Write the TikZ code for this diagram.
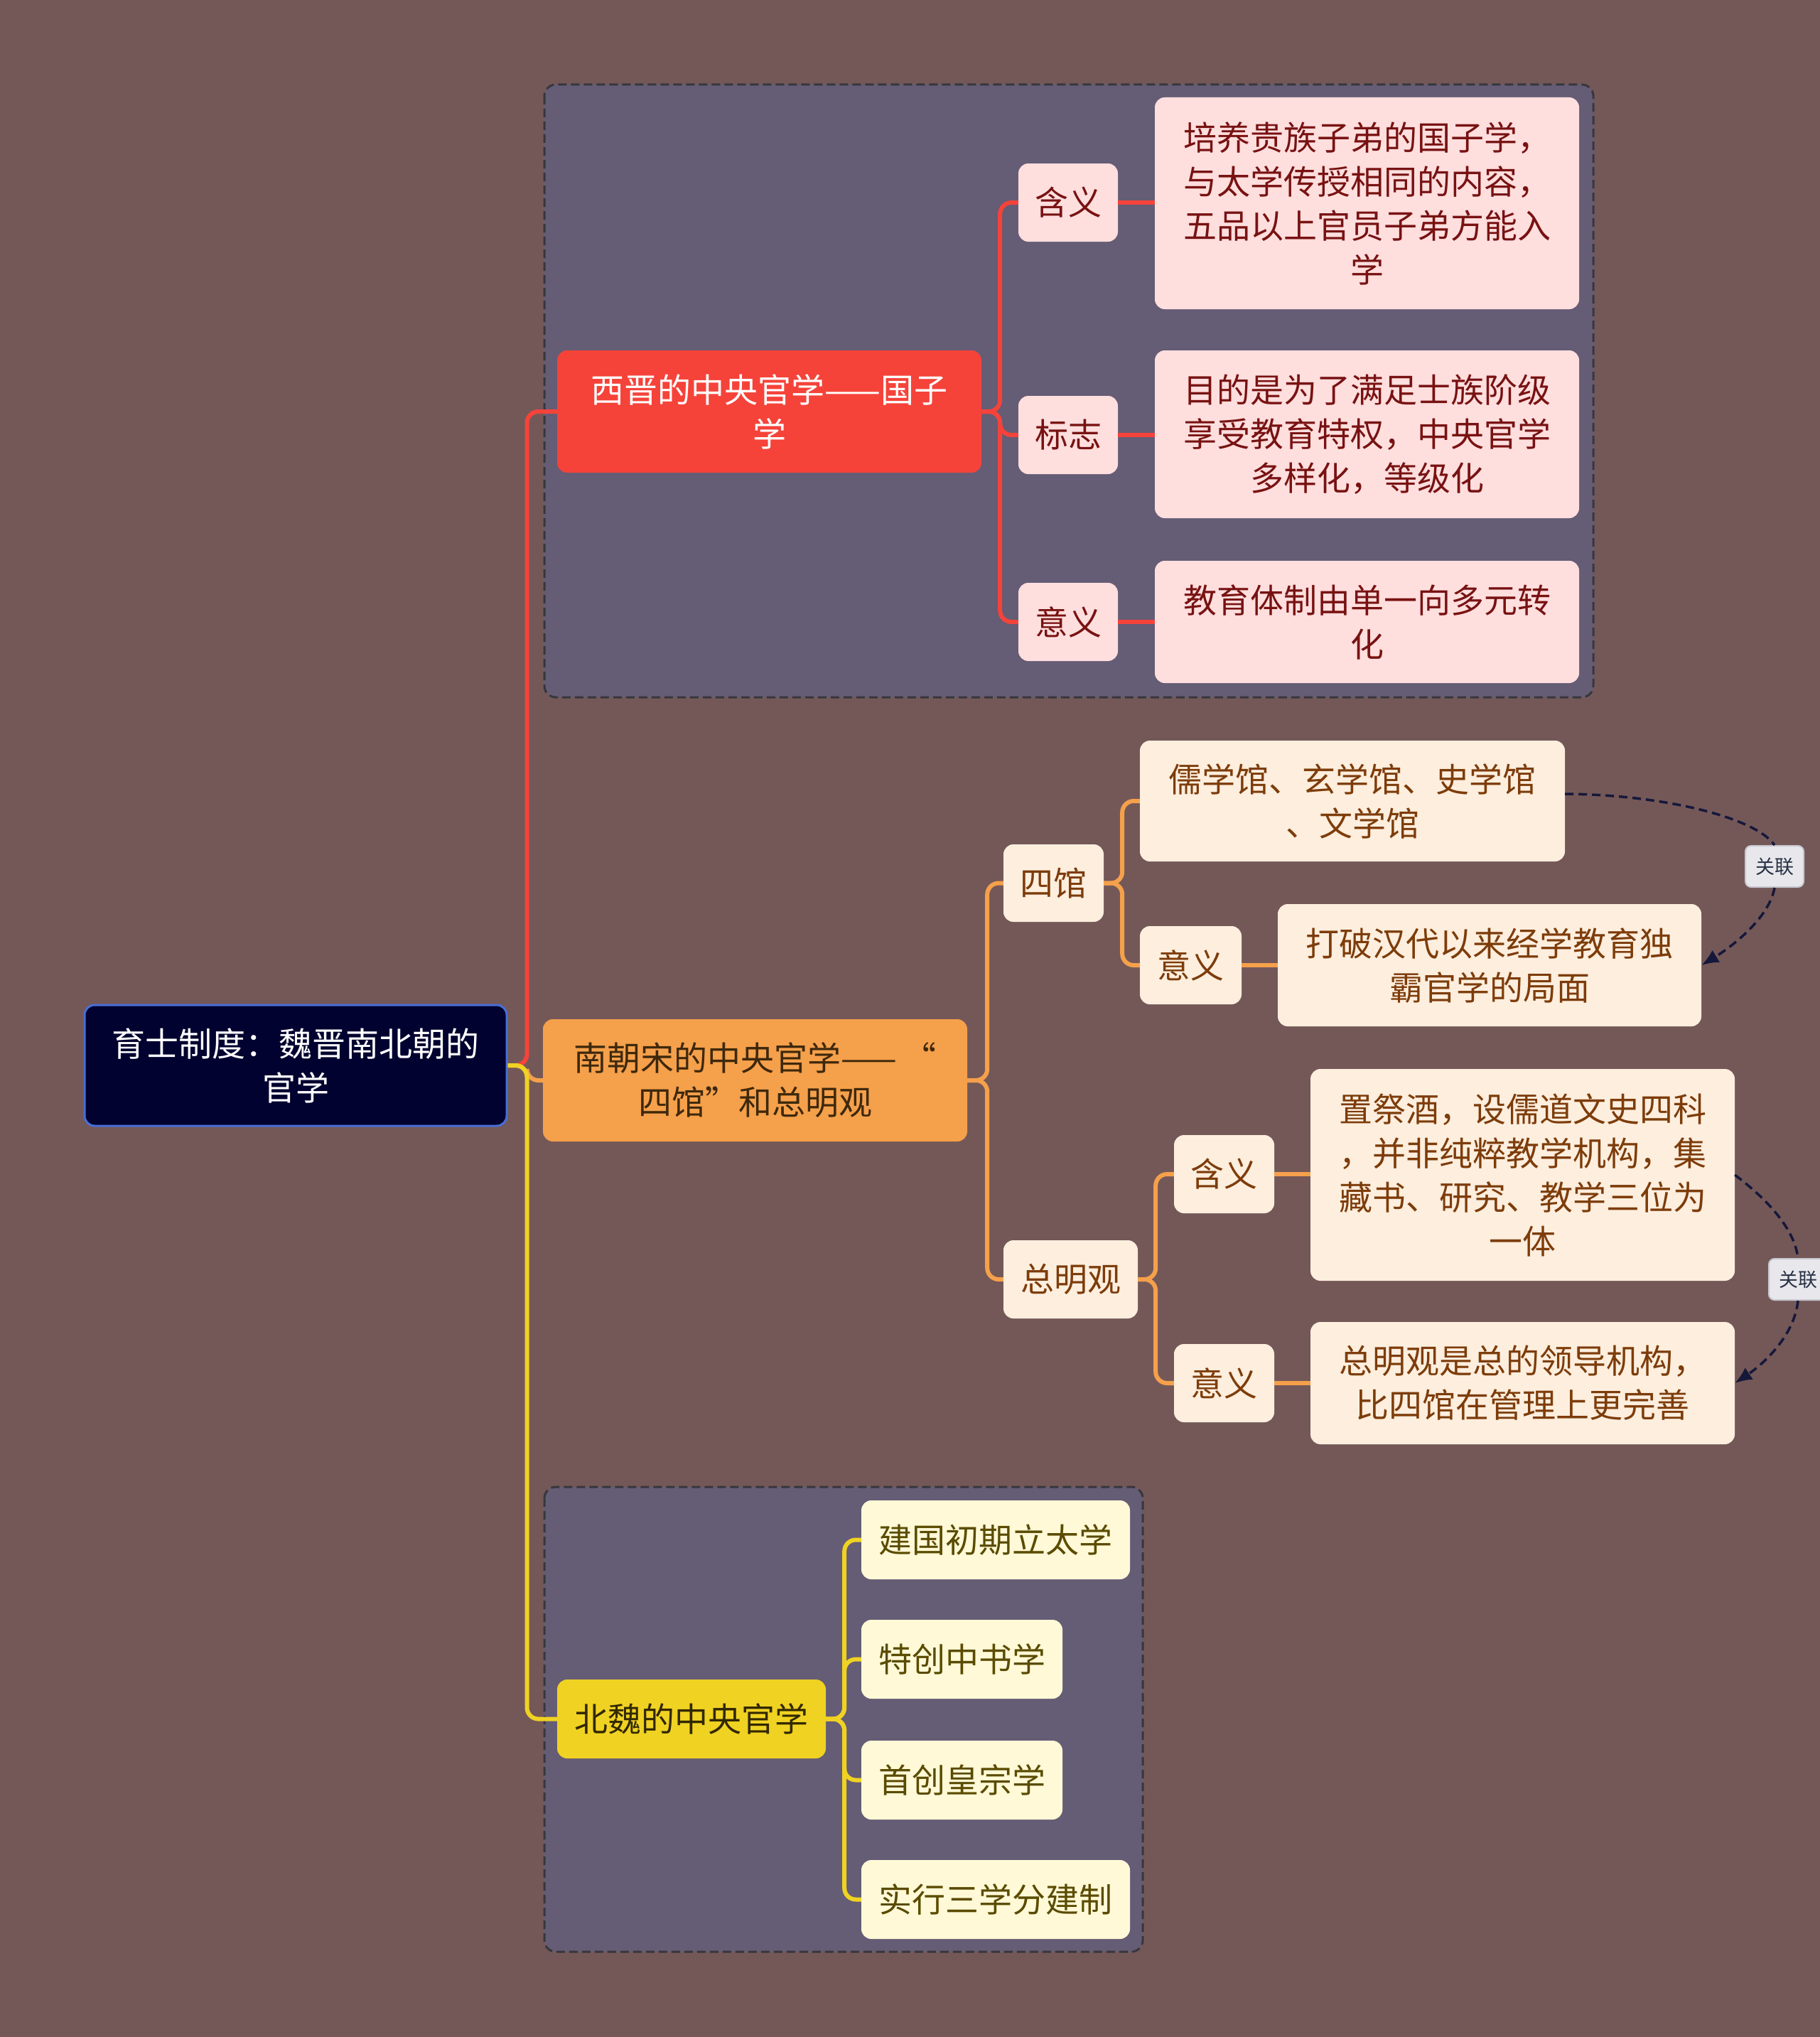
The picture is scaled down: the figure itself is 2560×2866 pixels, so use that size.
\documentclass[tikz,border=0pt]{standalone}
\usepackage{fontspec}
\setmainfont{Noto Sans CJK SC}
\usetikzlibrary{arrows.meta}
\definecolor{bgc}{RGB}{116,88,88}
\definecolor{framefill}{RGB}{101,92,117}
\definecolor{framedraw}{RGB}{55,55,60}
\definecolor{rootfill}{RGB}{2,2,48}
\definecolor{rootdraw}{RGB}{72,110,214}
\definecolor{redc}{RGB}{245,67,58}
\definecolor{pinkc}{RGB}{255,222,222}
\definecolor{pinktext}{RGB}{120,18,18}
\definecolor{orangec}{RGB}{245,160,75}
\definecolor{orangetext}{RGB}{62,40,12}
\definecolor{creamc}{RGB}{253,238,222}
\definecolor{creamtext}{RGB}{125,60,10}
\definecolor{yellowc}{RGB}{240,210,35}
\definecolor{yellowtext}{RGB}{50,40,0}
\definecolor{lightyel}{RGB}{255,249,215}
\definecolor{lightyeltext}{RGB}{90,75,0}
\definecolor{relfill}{RGB}{232,232,236}
\definecolor{reldraw}{RGB}{200,200,208}
\definecolor{reltext}{RGB}{40,50,70}
\definecolor{relline}{RGB}{22,24,58}
\begin{document}
\begin{tikzpicture}[x=1pt,y=-1pt,
  box/.style={rectangle, rounded corners=14pt, inner sep=0pt, align=center,
    font=\fontsize{47}{62}\selectfont},
  sz/.style n args={2}{minimum width=#1pt, minimum height=#2pt},
  rootbox/.style={box, fill=rootfill, draw=rootdraw, line width=3pt, text=white},
  redbox/.style={box, fill=redc, text=white},
  pinkbox/.style={box, fill=pinkc, text=pinktext},
  orangebox/.style={box, fill=orangec, text=orangetext},
  creambox/.style={box, fill=creamc, text=creamtext},
  yellowbox/.style={box, fill=yellowc, text=yellowtext},
  lyelbox/.style={box, fill=lightyel, text=lightyeltext},
  frame/.style={fill=framefill, draw=framedraw, line width=3pt, dash pattern=on 12pt off 6pt, rounded corners=16pt},
  conn/.style={line width=6pt, rounded corners=16pt},
  relbox/.style={rectangle, rounded corners=8pt, fill=relfill, draw=reldraw, line width=2pt,
    text=reltext, font=\fontsize{27}{32}\selectfont, inner sep=0pt, minimum width=82pt, minimum height=58pt},
  relline/.style={draw=relline, line width=3.5pt, dash pattern=on 12pt off 7pt},
  relarrow/.style={relline, -{Latex[length=24pt,width=20pt]}}
]
\useasboundingbox (0,0) rectangle (2560,2866);
\fill[bgc] (-20,-20) rectangle (2580,2886);

% group frames
\draw[frame] (766,119) rectangle (2242,981);
\draw[frame] (766,2092) rectangle (1608,2746);

% root
\node[rootbox, sz={594}{170}] (root) at (416,1499) {育士制度：魏晋南北朝的\\官学};

% branch 1
\node[redbox, sz={597}{172}] (b1) at (1082.5,579) {西晋的中央官学——国子\\学};
\node[pinkbox, sz={140}{110}] (c11) at (1503,285) {含义};
\node[pinkbox, sz={140}{110}] (c12) at (1503,612) {标志};
\node[pinkbox, sz={140}{110}] (c13) at (1503,875) {意义};
\node[pinkbox, sz={597}{298}] (l11) at (1923.5,286) {培养贵族子弟的国子学，\\与太学传授相同的内容，\\五品以上官员子弟方能入\\学};
\node[pinkbox, sz={597}{236}] (l12) at (1923.5,611) {目的是为了满足士族阶级\\享受教育特权，中央官学\\多样化，等级化};
\node[pinkbox, sz={597}{172}] (l13) at (1923.5,875) {教育体制由单一向多元转\\化};

% branch 2
\node[orangebox, sz={597}{172}] (b2) at (1062.5,1520) {南朝宋的中央官学——\,“\\四馆”和总明观};
\node[creambox, sz={141}{109}] (c21) at (1482.5,1242.5) {四馆};
\node[creambox, sz={189}{110}] (c22) at (1506.5,1800) {总明观};
\node[creambox, sz={598}{170}] (l211) at (1903,1127) {儒学馆、玄学馆、史学馆\\、文学馆};
\node[creambox, sz={143}{110}] (c212) at (1675.5,1358) {意义};
\node[creambox, sz={596}{172}] (l212) at (2096,1358) {打破汉代以来经学教育独\\霸官学的局面};
\node[creambox, sz={141}{110}] (c221) at (1722.5,1652) {含义};
\node[creambox, sz={597}{298}] (l221) at (2142.5,1653) {置祭酒，设儒道文史四科\\，并非纯粹教学机构，集\\藏书、研究、教学三位为\\一体};
\node[creambox, sz={141}{110}] (c222) at (1722.5,1946) {意义};
\node[creambox, sz={597}{172}] (l222) at (2142.5,1946) {总明观是总的领导机构，\\比四馆在管理上更完善};

% branch 3
\node[yellowbox, sz={378}{111}] (b3) at (973,2418.5) {北魏的中央官学};
\node[lyelbox, sz={378}{111}] (l31) at (1401,2166.5) {建国初期立太学};
\node[lyelbox, sz={283}{111}] (l32) at (1353.5,2334.5) {特创中书学};
\node[lyelbox, sz={283}{111}] (l33) at (1353.5,2504.5) {首创皇宗学};
\node[lyelbox, sz={378}{111}] (l34) at (1401,2672.5) {实行三学分建制};

% root connectors
\draw[conn, draw=redc] (root.east) -- ++(27,0) |- (b1.west);
\draw[conn, draw=orangec] (root.east) -- ++(27,0) |- (b2.west);
\draw[conn, draw=yellowc] (root.east) -- ++(27,0) |- (b3.west);

% branch 1 connectors
\foreach \c in {c11,c12,c13}{
  \draw[conn, draw=redc] (b1.east) -- ++(26,0) |- (\c.west);
}
\draw[conn, draw=redc] (c11.east) -- (l11.west |- c11.east);
\draw[conn, draw=redc] (c12.east) -- (l12.west |- c12.east);
\draw[conn, draw=redc] (c13.east) -- (l13.west |- c13.east);

% branch 2 connectors
\draw[conn, draw=orangec] (b2.east) -- ++(28,0) |- (c21.west);
\draw[conn, draw=orangec] (b2.east) -- ++(28,0) |- (c22.west);
\draw[conn, draw=orangec] (c21.east) -- ++(26,0) |- (l211.west);
\draw[conn, draw=orangec] (c21.east) -- ++(26,0) |- (c212.west);
\draw[conn, draw=orangec] (c212.east) -- (l212.west |- c212.east);
\draw[conn, draw=orangec] (c22.east) -- ++(25,0) |- (c221.west);
\draw[conn, draw=orangec] (c22.east) -- ++(25,0) |- (c222.west);
\draw[conn, draw=orangec] (c221.east) -- (l221.west |- c221.east);
\draw[conn, draw=orangec] (c222.east) -- (l222.west |- c222.east);

% branch 3 connectors
\foreach \c in {l31,l32,l33,l34}{
  \draw[conn, draw=yellowc] (b3.east) -- ++(26,0) |- (\c.west);
}

% relation labels
\node[relbox] (r1) at (2497,1219) {关联};
\node[relbox] (r2) at (2530,1800) {关联};

% relation arrows
\draw[relline] ([yshift=10pt]l211.east) .. controls (2340,1118) and (2470,1150) .. (r1.north);
\draw[relarrow] (r1.south) .. controls (2490,1290) and (2440,1330) .. (l212.east);
\draw[relline] (l221.east) .. controls (2490,1690) and (2525,1730) .. (r2.north);
\draw[relarrow] (r2.south) .. controls (2525,1880) and (2480,1920) .. (l222.east);
\end{tikzpicture}
\end{document}
